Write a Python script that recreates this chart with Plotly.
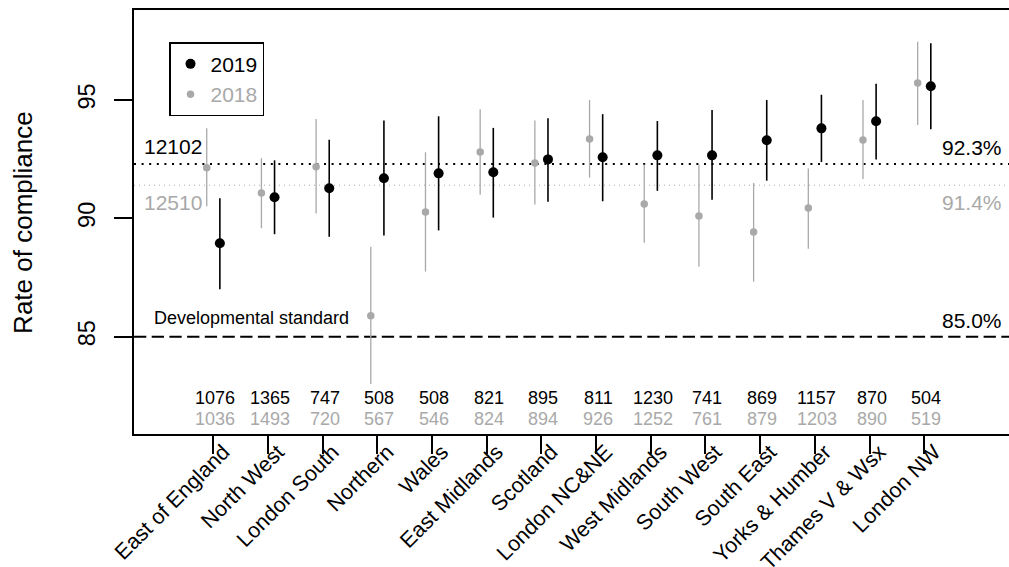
import plotly.graph_objects as go

regions = ["East of England", "North West", "London South", "Northern", "Wales",
           "East Midlands", "Scotland", "London NC&NE", "West Midlands", "South West",
           "South East", "Yorks & Humber", "Thames V & Wsx", "London NW"]

rate_2019 = [88.95, 90.89, 91.27, 91.69, 91.90, 91.95, 92.49, 92.58, 92.66, 92.66, 93.30, 93.80, 94.10, 95.58]
lo_2019 = [87.00, 89.33, 89.22, 89.27, 89.49, 90.03, 90.70, 90.72, 91.16, 90.78, 91.59, 92.38, 92.48, 93.76]
hi_2019 = [90.85, 92.45, 93.32, 94.13, 94.31, 93.82, 94.23, 94.40, 94.11, 94.58, 95.00, 95.22, 95.69, 97.40]

rate_2018 = [92.14, 91.07, 92.18, 85.89, 90.27, 92.80, 92.34, 93.35, 90.61, 90.10, 89.42, 90.44, 93.31, 95.72]
lo_2018 = [90.51, 89.58, 90.20, 83.00, 87.75, 91.00, 90.58, 91.72, 88.97, 87.96, 87.32, 88.72, 91.66, 93.94]
hi_2018 = [93.80, 92.54, 94.20, 88.80, 92.79, 94.61, 94.13, 95.00, 92.27, 92.27, 91.49, 92.11, 95.00, 97.46]

n_2019 = [1076, 1365, 747, 508, 508, 821, 895, 811, 1230, 741, 869, 1157, 870, 504]
n_2018 = [1036, 1493, 720, 567, 546, 824, 894, 926, 1252, 761, 879, 1203, 890, 519]

total_2019 = 12102
total_2018 = 12510
overall_2019 = 92.3
overall_2018 = 91.4
standard = 85.0

BLACK = "#000000"
GREY = "#A9A9A9"
FONT = "Liberation Sans"

pos = list(range(1, len(regions) + 1))
offset = 0.12

fig = go.Figure()

fig.add_trace(go.Scatter(
    x=[p + offset for p in pos], y=rate_2019, mode="markers", name="2019",
    marker=dict(color=BLACK, size=10),
    error_y=dict(type="data", symmetric=False,
                 array=[h - r for h, r in zip(hi_2019, rate_2019)],
                 arrayminus=[r - l for r, l in zip(rate_2019, lo_2019)],
                 color=BLACK, thickness=1.6, width=0),
))
fig.add_trace(go.Scatter(
    x=[p - offset for p in pos], y=rate_2018, mode="markers",
    name="<span style='color:%s'>2018</span>" % GREY,
    marker=dict(color=GREY, size=7.5),
    error_y=dict(type="data", symmetric=False,
                 array=[h - r for h, r in zip(hi_2018, rate_2018)],
                 arrayminus=[r - l for r, l in zip(rate_2018, lo_2018)],
                 color=GREY, thickness=1.3, width=0),
))

# reference lines
fig.add_shape(type="line", xref="paper", x0=0, x1=1, y0=overall_2019, y1=overall_2019,
              line=dict(color=BLACK, width=2, dash="2px,5.6px"), layer="below")
fig.add_shape(type="line", xref="paper", x0=0, x1=1, y0=overall_2018, y1=overall_2018,
              line=dict(color=GREY, width=1, dash="1px,4px"), layer="below")
fig.add_shape(type="line", xref="paper", x0=0, x1=1, y0=standard, y1=standard,
              line=dict(color=BLACK, width=2, dash="12.3px,5.4px"), layer="below")

ann = []
ann.append(dict(x=0.009, xref="paper", y=overall_2019, yref="y", yshift=17.6,
                text=str(total_2019), xanchor="left", yanchor="middle",
                font=dict(size=21, color=BLACK)))
ann.append(dict(x=0.009, xref="paper", y=overall_2018, yref="y", yshift=-17.3,
                text=str(total_2018), xanchor="left", yanchor="middle",
                font=dict(size=21, color=GREY)))
ann.append(dict(x=0.994, xref="paper", y=overall_2019, yref="y", yshift=16,
                text="%.1f%%" % overall_2019, xanchor="right", yanchor="middle",
                font=dict(size=21, color=BLACK)))
ann.append(dict(x=0.994, xref="paper", y=overall_2018, yref="y", yshift=-17,
                text="%.1f%%" % overall_2018, xanchor="right", yanchor="middle",
                font=dict(size=21, color=GREY)))
ann.append(dict(x=0.994, xref="paper", y=standard, yref="y", yshift=16,
                text="%.1f%%" % standard, xanchor="right", yanchor="middle",
                font=dict(size=21, color=BLACK)))
ann.append(dict(x=0.02, xref="paper", y=standard, yref="y", yshift=19,
                text="Developmental standard", xanchor="left", yanchor="middle",
                font=dict(size=18, color=BLACK)))
ann.append(dict(x=-0.127, xref="paper", y=0.5, yref="paper", text="Rate of compliance",
                textangle=-90, xanchor="center", yanchor="middle",
                font=dict(size=26, color=BLACK)))

for p, a, b in zip(pos, n_2019, n_2018):
    ann.append(dict(x=p, y=82.42, xref="x", yref="y", text=str(a),
                    xanchor="center", yanchor="middle", xshift=2,
                    font=dict(size=18, color=BLACK)))
    ann.append(dict(x=p, y=81.52, xref="x", yref="y", text=str(b),
                    xanchor="center", yanchor="middle", xshift=2,
                    font=dict(size=18, color=GREY)))
for a in ann:
    a["showarrow"] = False

fig.update_layout(
    width=1009, height=567,
    margin=dict(l=134, r=0, t=10, b=133, pad=0, autoexpand=False),
    paper_bgcolor="white", plot_bgcolor="white",
    font=dict(family=FONT, color=BLACK),
    showlegend=True,
    hovermode=False,
    legend=dict(x=0.04, y=0.924, xanchor="left", yanchor="top",
                bordercolor=BLACK, borderwidth=1.5, bgcolor="white",
                font=dict(size=21, family=FONT), traceorder="normal",
                itemsizing="trace"),
    annotations=ann,
    xaxis=dict(range=[-0.45, 15.55], tickvals=pos, ticktext=regions, tickangle=-45,
               showgrid=False, zeroline=False, showline=True, linecolor=BLACK,
               linewidth=2, mirror=True, ticks="outside", ticklen=18, tickwidth=2,
               tickcolor=BLACK, tickfont=dict(size=21.5, family=FONT), automargin=False,
               ticklabelstandoff=-23, ticklabelshift=10),
    yaxis=dict(range=[80.89, 98.80], tickvals=[85, 90, 95], tickangle=-90,
               showgrid=False, zeroline=False, showline=True, linecolor=BLACK,
               linewidth=2, ticks="outside", ticklen=18, tickwidth=2, tickcolor=BLACK,
               tickfont=dict(size=23.5, family=FONT), ticklabelstandoff=10,
               automargin=False),
)

fig.write_html("out.html", config={"displayModeBar": False},
               post_script="document.body.style.margin='0px';"
                           "document.body.style.overflow='hidden';")
